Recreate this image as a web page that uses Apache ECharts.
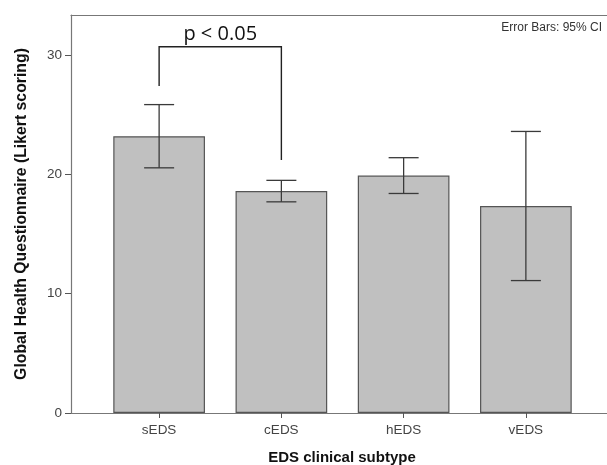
<!DOCTYPE html>
<html>
<head>
<meta charset="utf-8">
<script src="https://cdn.jsdelivr.net/npm/echarts@6/dist/echarts.min.js"></script>
<style>
html, body { margin: 0; padding: 0; background: #fff; }
#chart { width: 607px; height: 465px; }
</style>
</head>
<body>
<div id="chart"></div>
<script>
// data
const subtypes = ['sEDS', 'cEDS', 'hEDS', 'vEDS'];
const means = [23.2, 18.6, 19.9, 17.35];
const ciLow = [20.55, 17.7, 18.4, 11.1];
const ciHigh = [25.85, 19.5, 21.4, 23.6];

// significance bracket between sEDS and cEDS
const bracketFrom = 0;
const bracketTo = 1;
const bracketLeftEnd = 27.4;
const bracketRightEnd = 21.2;
const bracketTop = 30.7;
const bracketText = 'p < 0.05';

const yMax = 33.36;

const chart = echarts.init(document.getElementById('chart'));

const tickFont = { fontFamily: 'Liberation Sans', fontSize: 13.5, color: '#444' };
const frameLine = { show: true, lineStyle: { color: '#777', width: 1.2 } };
const titleFont = { fontFamily: 'Liberation Sans', fontWeight: 'bold', color: '#111' };

// error bars drawn through the axis scale
function renderErrorBar(params, api) {
    const x = api.value(0);
    const lo = api.coord([x, api.value(1)]);
    const hi = api.coord([x, api.value(2)]);
    const half = 15;
    const style = { stroke: '#3a3a3a', lineWidth: 1.3 };
    return {
        type: 'group',
        children: [
            { type: 'line', shape: { x1: lo[0], y1: lo[1], x2: hi[0], y2: hi[1] }, style: style },
            { type: 'line', shape: { x1: lo[0] - half, y1: lo[1], x2: lo[0] + half, y2: lo[1] }, style: style },
            { type: 'line', shape: { x1: hi[0] - half, y1: hi[1], x2: hi[0] + half, y2: hi[1] }, style: style }
        ]
    };
}

function renderBracket(params, api) {
    const a = api.coord([api.value(0), api.value(2)]);
    const aTop = api.coord([api.value(0), api.value(4)]);
    const b = api.coord([api.value(1), api.value(3)]);
    const bTop = api.coord([api.value(1), api.value(4)]);
    return {
        type: 'group',
        children: [
            {
                type: 'polyline',
                shape: { points: [a, aTop, bTop, b] },
                style: { stroke: '#222', lineWidth: 1.4, fill: null }
            },
            {
                type: 'text',
                style: {
                    text: bracketText,
                    x: (aTop[0] + bTop[0]) / 2,
                    y: aTop[1] - 2,
                    align: 'center',
                    verticalAlign: 'bottom',
                    font: '20px "Open Sans"',
                    fill: '#111'
                }
            }
        ]
    };
}

const option = {
    animation: false,
    backgroundColor: '#fff',
    grid: [
        { left: 98, right: 20, top: 15, bottom: 52, outerBoundsMode: 'none', containLabel: false },
        { left: 71, right: 0, top: 15, bottom: 52, outerBoundsMode: 'none', containLabel: false }
    ],
    graphic: [{
        type: 'text',
        right: 5,
        top: 22,
        style: { text: 'Error Bars: 95% CI', font: '12px "Liberation Sans"', fill: '#333' }
    }],
    xAxis: [
        {
            type: 'category',
            gridIndex: 0,
            data: subtypes,
            axisLine: { show: false },
            axisTick: { show: true, alignWithLabel: true, length: 5, lineStyle: { color: '#555' } },
            axisLabel: Object.assign({ margin: 10 }, tickFont)
        },
        {
            type: 'value',
            gridIndex: 1,
            position: 'bottom',
            min: 0, max: 1,
            axisLine: frameLine,
            axisTick: { show: false },
            axisLabel: { show: false },
            splitLine: { show: false },
            name: 'EDS clinical subtype',
            nameLocation: 'middle',
            nameGap: 37,
            nameTextStyle: Object.assign({ fontSize: 15, padding: [0, 0, 0, 6] }, titleFont)
        },
        {
            type: 'value',
            gridIndex: 1,
            position: 'top',
            min: 0, max: 1,
            axisLine: frameLine,
            axisTick: { show: false },
            axisLabel: { show: false },
            splitLine: { show: false }
        }
    ],
    yAxis: [
        {
            type: 'value',
            gridIndex: 0,
            min: 0, max: yMax,
            show: false
        },
        {
            type: 'value',
            gridIndex: 1,
            min: 0, max: yMax,
            interval: 10,
            axisLine: frameLine,
            axisTick: { show: true, length: 6, lineStyle: { color: '#555' } },
            axisLabel: Object.assign({ margin: 9, showMaxLabel: false }, tickFont),
            splitLine: { show: false },
            name: 'Global Health Questionnaire (Likert scoring)',
            nameLocation: 'middle',
            nameGap: 41,
            nameTextStyle: Object.assign({ fontSize: 15.8 }, titleFont)
        }
    ],
    series: [
        {
            type: 'bar',
            xAxisIndex: 0,
            yAxisIndex: 0,
            data: means,
            barCategoryGap: '25%',
            itemStyle: { color: '#c0c0c0', borderColor: '#555', borderWidth: 1.2 }
        },
        {
            type: 'custom',
            xAxisIndex: 0,
            yAxisIndex: 0,
            renderItem: renderErrorBar,
            data: subtypes.map((s, i) => [i, ciLow[i], ciHigh[i]]),
            z: 5
        },
        {
            type: 'custom',
            xAxisIndex: 0,
            yAxisIndex: 0,
            renderItem: renderBracket,
            clip: false,
            data: [[bracketFrom, bracketTo, bracketLeftEnd, bracketRightEnd, bracketTop]],
            z: 6
        }
    ]
};

chart.setOption(option);
</script>
</body>
</html>
